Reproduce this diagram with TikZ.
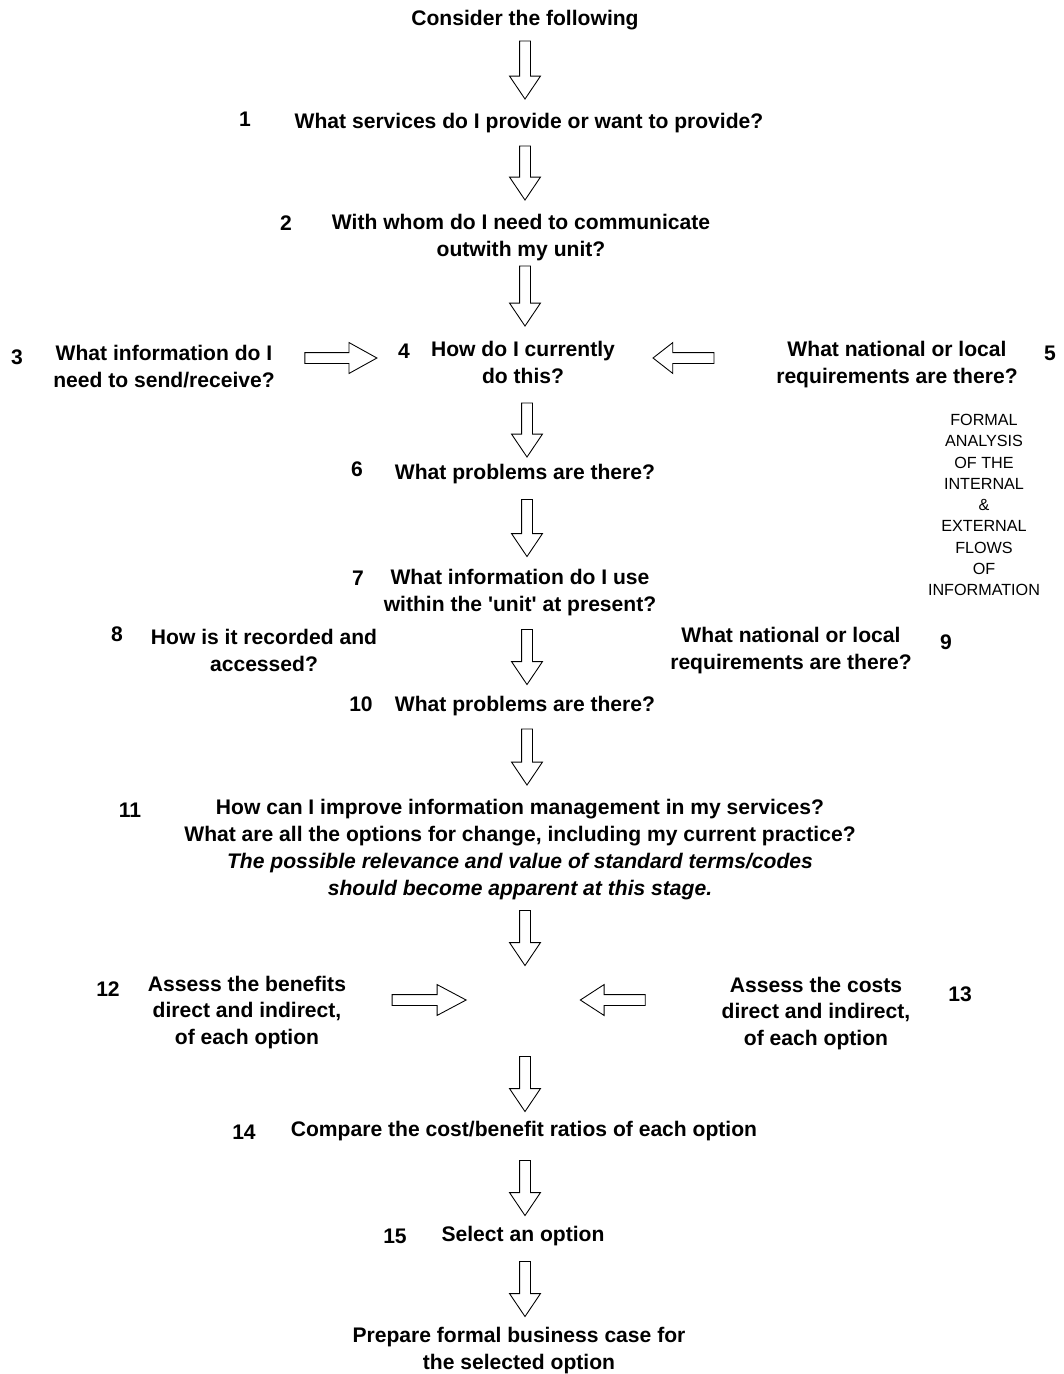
\documentclass[tikz,border=0pt]{standalone}
\usepackage{fontspec}
\setmainfont{Liberation Sans}
\usetikzlibrary{shapes.arrows,positioning}

\begin{document}
\begin{tikzpicture}[x=0.02cm, y=-0.02cm,
    qtext/.style={align=center, inner sep=0pt, yshift=-0.05cm, font=\fontsize{12}{15.3}\selectfont\bfseries},
    qnum/.style={inner sep=0pt, yshift=-0.05cm, font=\fontsize{12}{15.3}\selectfont\bfseries},
    note/.style={align=center, inner sep=0pt, font=\fontsize{9.2}{12.1}\selectfont},
    flow/.style={single arrow, draw, line width=0.5pt, inner sep=0pt, inner ysep=0.1cm,
      minimum width=0pt, single arrow head extend=0.2cm, single arrow tip angle=68},
    downflow/.style={flow, rotate=-90, minimum height=#1},
    rightflow/.style={flow, minimum height=#1},
    leftflow/.style={flow, rotate=180, minimum height=#1}
  ]
  \useasboundingbox (0,0) rectangle (1064,1374);

  % top of the chain
  \node[qtext] (start) at (525,18) {Consider the following};
  \node[downflow=1.16cm] (a1) at (525,66) {};

  \node[qnum] (n1) at (245,117) {1};
  \node[qtext] (q1) at (529,121) {What services do I provide or want to provide?};
  \node[downflow=1.08cm] (a2) at (525,169) {};

  \node[qnum] (n2) at (286,221) {2};
  \node[qtext] (q2) at (521,235) {With whom do I need to communicate\\outwith my unit?};
  \node[downflow=1.2cm] (a3) at (525,292) {};

  % row 3 - 4 - 5
  \node[qnum] (n3) at (17,355) {3};
  \node[qtext] (q3) at (164,364) {What information do I\\need to send/receive?};
  \node[rightflow=1.44cm, single arrow tip angle=58] (h1) at (336,358) {};
  \node[qnum] (n4) at (404,349) {4};
  \node[qtext] (q4) at (523,360) {How do I currently\\do this?};
  \node[leftflow=1.22cm, single arrow tip angle=76] (h2) at (687,358) {};
  \node[qtext] (q5) at (897,362) {What national or local\\requirements are there?};
  \node[qnum] (n5) at (1050,351) {5};

  \node[note] (side) at (984,505) {FORMAL\\ANALYSIS\\OF THE\\INTERNAL\\\&\\EXTERNAL\\FLOWS\\OF\\INFORMATION};

  \node[downflow=1.08cm] (a4) at (527,426) {};
  \node[qnum] (n6) at (357,467) {6};
  \node[qtext] (q6) at (525,472) {What problems are there?};
  \node[downflow=1.14cm] (a5) at (527,524) {};

  \node[qnum] (n7) at (358,576) {7};
  \node[qtext] (q7) at (520,590) {What information do I use\\within the \textquotesingle unit\textquotesingle\ at present?};

  % row 8 - 9
  \node[qnum] (n8) at (117,632) {8};
  \node[qtext] (q8) at (264,648) {How is it recorded and\\accessed?};
  \node[downflow=1.1cm] (a6) at (527,653) {};
  \node[qtext] (q9) at (791,648) {What national or local\\requirements are there?};
  \node[qnum] (n9) at (946,640) {9};

  \node[qnum] (n10) at (361,702) {10};
  \node[qtext] (q10) at (525,704) {What problems are there?};
  \node[downflow=1.12cm] (a7) at (527,753) {};

  \node[qnum] (n11) at (130,808) {11};
  \node[qtext] (q11) at (520,847) {How can I improve information management in my services?\\
    What are all the options for change, including my current practice?\\
    \itshape The possible relevance and value of standard terms/codes\\
    \itshape should become apparent at this stage.};
  \node[downflow=1.1cm] (a8) at (525,934) {};

  % row 12 - 13
  \node[qnum] (n12) at (108,987) {12};
  \node[qtext] (q12) at (247,1010) {Assess the benefits\\direct and indirect,\\of each option};
  \node[rightflow=1.48cm, single arrow tip angle=56] (h3) at (424,1000) {};
  \node[leftflow=1.3cm, single arrow tip angle=66] (h4) at (617,1000) {};
  \node[qtext] (q13) at (816,1011) {Assess the costs\\direct and indirect,\\of each option};
  \node[qnum] (n13) at (960,992) {13};

  \node[downflow=1.1cm] (a9) at (525,1080) {};
  \node[qnum] (n14) at (244,1130) {14};
  \node[qtext] (q14) at (524,1129) {Compare the cost/benefit ratios of each option};
  \node[downflow=1.1cm] (a10) at (525,1184) {};

  \node[qnum] (n15) at (395,1234) {15};
  \node[qtext] (q15) at (523,1234) {Select an option};
  \node[downflow=1.1cm] (a11) at (525,1285) {};

  \node[qtext] (final) at (519,1348) {Prepare formal business case for\\the selected option};
\end{tikzpicture}
\end{document}
